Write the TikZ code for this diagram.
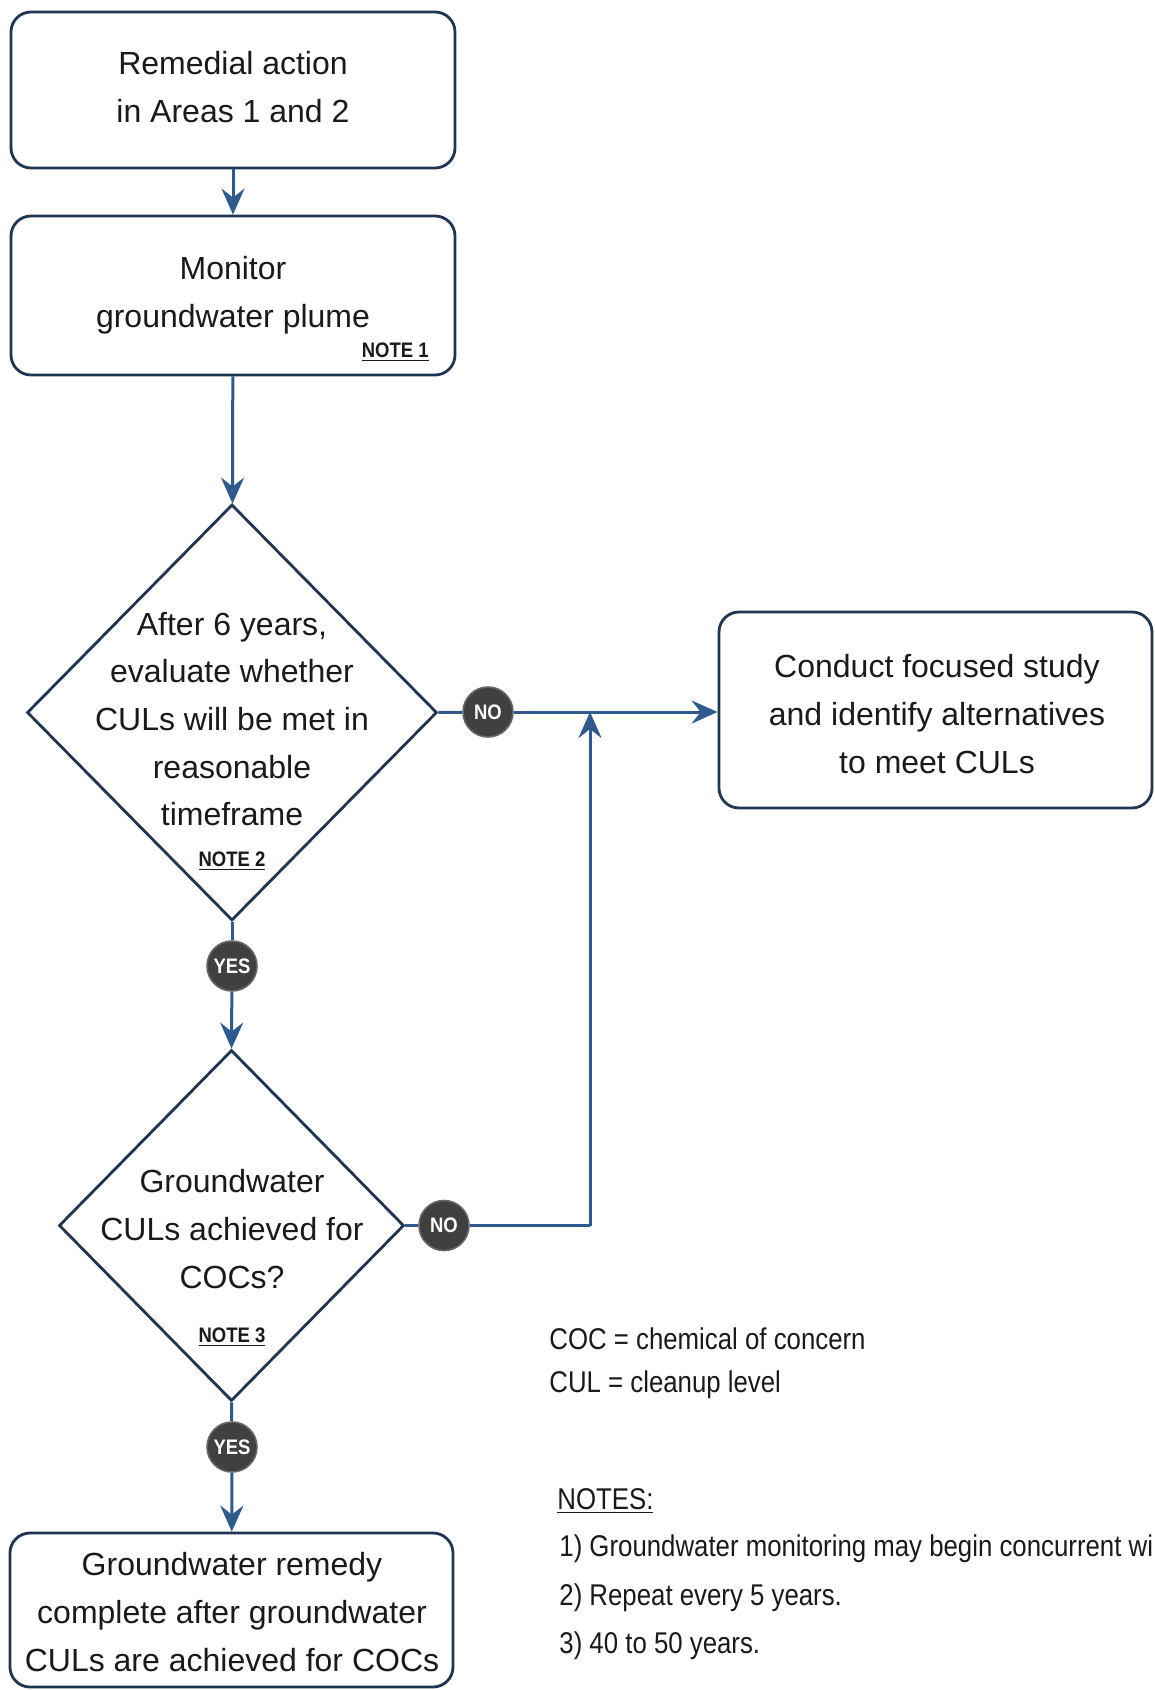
\documentclass[tikz,border=0pt]{standalone}
\usepackage{fontspec}
\setmainfont{Liberation Sans}
\newfontfamily\narrowfont[FakeStretch=0.86]{Liberation Sans}
\newfontfamily\notefont[FakeStretch=0.88]{Liberation Sans}
\usetikzlibrary{shapes.geometric,arrows.meta}
\definecolor{boxc}{HTML}{1F3552}
\definecolor{linec}{HTML}{2E5A8E}
\definecolor{badgec}{HTML}{404040}
\definecolor{txt}{HTML}{1A1A1A}
\begin{document}
\begin{tikzpicture}[x=0.5pt,y=-0.5pt,
 every node/.style={text=txt},
 procbox/.style={draw=boxc, line width=1.4pt, rounded corners=10pt, align=center, font=\fontsize{16}{23.8}\selectfont, inner sep=0pt},
 decbox/.style={draw=boxc, line width=1.4pt, diamond, inner sep=0pt},
 dectext/.style={align=center, font=\fontsize{16}{23.8}\selectfont, inner sep=0pt},
 badge/.style={circle, fill=badgec, draw=gray!80!black, line width=0.8pt, minimum size=25pt, inner sep=0pt, text=white, font=\notefont\bfseries\fontsize{10.5}{10}\selectfont},
 notelbl/.style={font=\notefont\bfseries\fontsize{10.5}{10}\selectfont, inner sep=0pt},
 flow/.style={draw=linec, line width=1.5pt},
 arr/.style={flow, -{Stealth[length=13pt,width=11.5pt,inset=4.5pt]}},
 legend/.style={font=\narrowfont\fontsize{15}{18}\selectfont, anchor=west, inner sep=0pt}
]
\useasboundingbox (0,0) rectangle (1155,1690);
\fill[white] (0,0) rectangle (1155,1690);

% process boxes
\node[procbox, minimum width=222pt, minimum height=78pt] (b1) at (233,90) {};
\node[dectext] (b1t) at (233,87) {Remedial action\\in Areas 1 and 2};
\node[procbox, minimum width=222pt, minimum height=79.5pt] (b2) at (233,295.5) {Monitor\\groundwater plume};
\node[notelbl, anchor=east] (n1) at (429,352) {\underline{NOTE 1}};

% decision 1
\node[decbox, minimum width=205pt, minimum height=208pt] (d1) at (232,712.5) {};
\node[dectext] (t1) at (232,719) {After 6 years,\\evaluate whether\\CULs will be met in\\reasonable\\timeframe};
\node[notelbl] (n2) at (232,861) {\underline{NOTE 2}};

% decision 2
\node[decbox, minimum width=172.5pt, minimum height=175.5pt] (d2) at (231.5,1225.5) {};
\node[dectext] (t2) at (232,1229) {Groundwater\\CULs achieved for\\COCs?};
\node[notelbl] (n3) at (232,1337) {\underline{NOTE 3}};

% right box
\node[procbox, minimum width=216.5pt, minimum height=98pt] (b3) at (935.5,710) {};
\node[dectext] (b3t) at (937,714) {Conduct focused study\\and identify alternatives\\to meet CULs};

% bottom box
\node[procbox, minimum width=221.5pt, minimum height=77pt] (b4) at (231.5,1610) {};
\node[dectext] (b4t) at (232,1612) {Groundwater remedy\\complete after groundwater\\CULs are achieved for COCs};

% badges
\node[badge] (no1) at (488,712) {NO};
\node[badge] (yes1) at (232,966) {YES};
\node[badge] (no2) at (444,1225.5) {NO};
\node[badge] (yes2) at (232,1447) {YES};

\coordinate (corner) at (590,1225.5);
\coordinate (join) at (590,712);

% connectors
\draw[arr] (b1) -- (b2);
\draw[arr] (b2) -- (d1);
\draw[flow] (d1.east) -- (no1);
\draw[arr] (no1) -- (no1 -| b3.west);
\draw[flow] (d1.south) -- (yes1);
\draw[arr] (yes1) -- (d2.north);
\draw[flow] (d2.east) -- (no2);
\draw[flow] (no2) -- (corner);
\draw[arr] (corner) -- (join);
\draw[flow] (d2.south) -- (yes2);
\draw[arr] (yes2) -- (b4);

% legend and notes
\node[legend] (l1) at (549,1339) {COC = chemical of concern};
\node[legend] (l2) at (549,1385) {CUL = cleanup level};
\node[legend] (nh) at (557,1501) {\underline{NOTES:}};
\node[legend] (nt1) at (559,1549) {1) Groundwater monitoring may begin concurrent wi};
\node[legend] (nt2) at (559,1598) {2) Repeat every 5 years.};
\node[legend] (nt3) at (559,1646) {3) 40 to 50 years.};
\end{tikzpicture}
\end{document}
